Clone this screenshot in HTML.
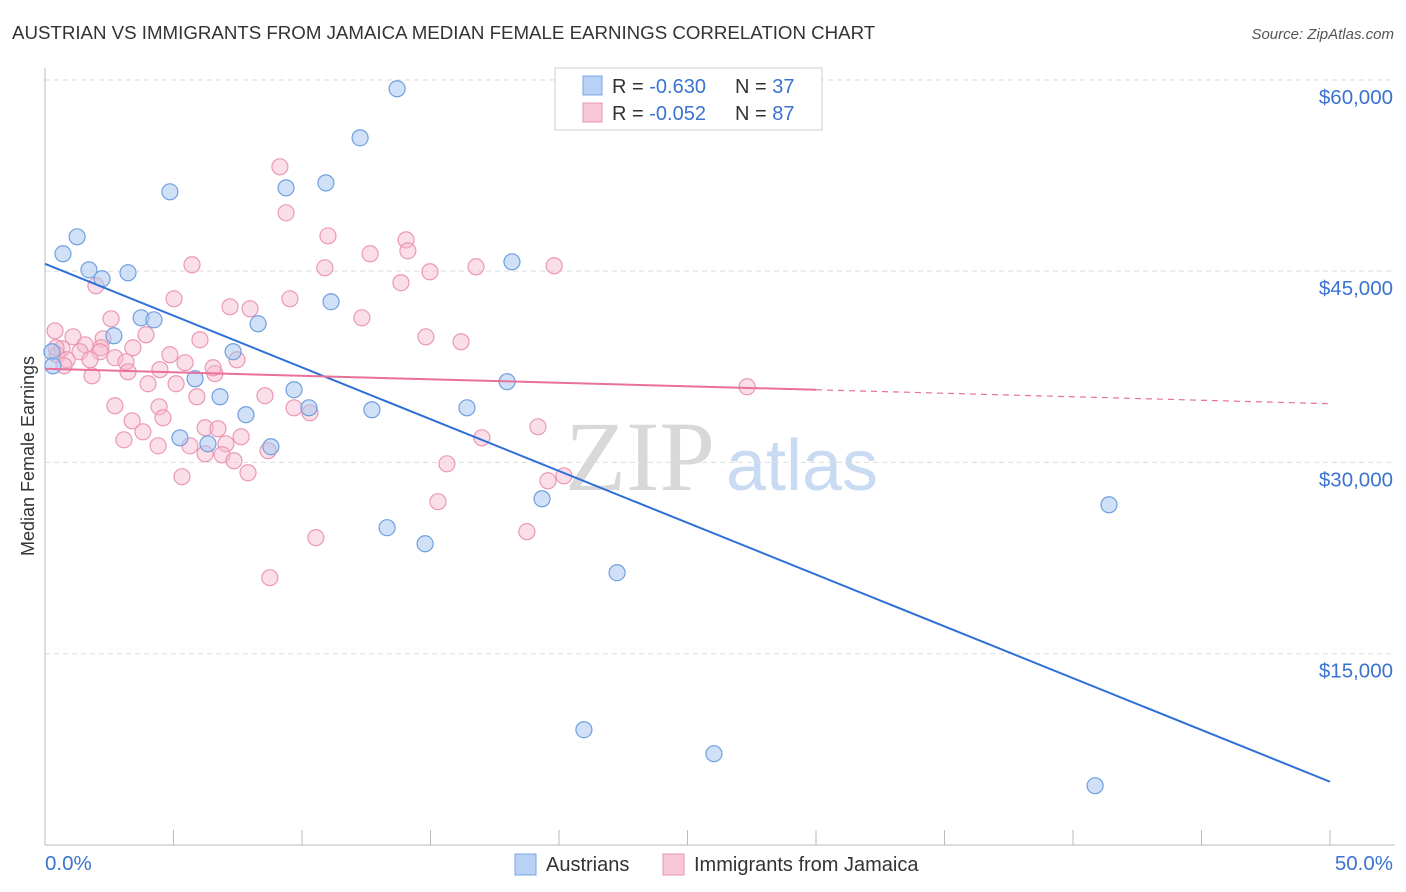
<!DOCTYPE html>
<html><head><meta charset="utf-8"><style>
body{margin:0;background:#fff;font-family:"Liberation Sans",sans-serif;}
svg{display:block}
</style></head><body>
<svg id="chart" width="1406" height="892" viewBox="0 0 1406 892">
<text x="12" y="39" font-size="18.7" fill="#333">AUSTRIAN VS IMMIGRANTS FROM JAMAICA MEDIAN FEMALE EARNINGS CORRELATION CHART</text>
<text x="1394" y="39" font-size="15" fill="#555" font-style="italic" text-anchor="end">Source: ZipAtlas.com</text>
<text x="34" y="456" font-size="18" fill="#333" text-anchor="middle" transform="rotate(-90 34 456)">Median Female Earnings</text>
<text x="640" y="490" font-size="100" fill="#d8d8d8" font-family="Liberation Serif,serif" text-anchor="middle">ZIP</text>
<text x="802" y="490" font-size="72" fill="#c9dbf2" text-anchor="middle">atlas</text>
<g id="grid"></g><g id="axes"></g><g id="pink"></g><g id="blue"></g><g id="lines"></g>
<g>
<rect x="555" y="68" width="267" height="62" fill="#fff" stroke="#ccc"/>
<rect x="583" y="76" width="19" height="19" fill="#b8d2f5" stroke="#7aa6e3"/>
<text x="612" y="93" font-size="20" fill="#333">R = <tspan fill="#3b73d1">-0.630</tspan></text>
<text x="735" y="93" font-size="20" fill="#333">N = <tspan fill="#3b73d1">37</tspan></text>
<rect x="583" y="103" width="19" height="19" fill="#f9c8d7" stroke="#ea93b0"/>
<text x="612" y="120" font-size="20" fill="#333">R = <tspan fill="#3b73d1">-0.052</tspan></text>
<text x="735" y="120" font-size="20" fill="#333">N = <tspan fill="#3b73d1">87</tspan></text>
</g>
<g>
<rect x="515" y="854" width="21" height="21" fill="#b8d2f5" stroke="#7aa6e3"/>
<text x="546" y="871" font-size="20" fill="#333">Austrians</text>
<rect x="663" y="854" width="21" height="21" fill="#f9c8d7" stroke="#ea93b0"/>
<text x="694" y="871" font-size="20" fill="#333">Immigrants from Jamaica</text>
</g>
</svg>
<script>
const yTicks=[15000,30000,45000,60000];
const yTickLabels=["$15,000","$30,000","$45,000","$60,000"];
const xTickLabels=["0.0%","50.0%"];
const blueX=[13.70,12.26,4.86,9.38,10.93,1.25,0.70,1.71,2.22,3.23,18.17,11.13,3.74,4.24,8.29,2.68,7.32,0.27,0.31,5.84,9.69,17.98,6.81,10.27,12.72,16.42,7.82,5.25,6.34,8.79,19.34,13.31,14.79,22.26,41.40,20.97,26.03,40.86];
const blueY=[59300,55450,51220,51530,51920,47690,46360,45100,44400,44870,45730,42600,41340,41180,40870,39930,38680,38680,37580,36560,35700,36330,35150,34280,34130,34280,33740,31930,31460,31230,27150,24880,23620,21350,26680,9040,7160,4650];
const pinkX=[9.14,9.38,11.01,14.05,14.12,12.65,5.72,10.89,16.77,19.81,14.98,13.85,1.98,5.02,9.53,7.20,7.98,12.33,2.57,0.39,1.09,2.26,14.82,16.19,3.93,1.56,0.66,2.18,3.42,6.03,0.47,1.36,2.72,0.86,3.15,7.47,4.47,5.45,6.61,3.23,0.74,1.83,4.01,5.10,5.91,8.56,4.44,2.72,9.69,10.31,3.39,4.59,3.81,3.07,7.63,6.23,6.73,4.40,5.64,7.04,6.23,6.89,7.35,8.68,7.90,5.33,15.64,17.00,19.18,20.19,19.57,15.29,18.75,10.54,8.75,27.32,2.14,0.43,4.86,6.54,1.75];
const pinkY=[53180,49570,47770,47450,46590,46360,45500,45260,45340,45420,44950,44090,43850,42830,42830,42200,42050,41340,41260,40320,39850,39690,39850,39460,40010,39220,38910,38990,38990,39620,38440,38680,38210,38050,37890,38050,37270,37820,36960,37110,37580,36790,36170,36170,35150,35230,34360,34440,34280,33890,33260,33500,32400,31770,32010,32720,32640,31300,31300,31460,30680,30600,30130,30920,29190,28880,29890,31930,32790,28950,28560,26920,24570,24100,20960,35930,38680,38990,38440,37420,38050];
const blueLine=[45570,4960];
const pinkLine=[37340,34600];
const pinkSolidEnd=30;
const X=p=>45+p*25.7;
const Y=v=>845-v*0.012753;
const NS="http://www.w3.org/2000/svg";
function mk(parent,tag,attrs){const e=document.createElementNS(NS,tag);for(const k in attrs)e.setAttribute(k,attrs[k]);document.getElementById(parent).appendChild(e);return e;}
yTicks.forEach((v,i)=>{
  const l=mk('grid','line',{x1:45,x2:1395,y1:Y(v),y2:Y(v),stroke:'#ddd','stroke-dasharray':'5,4'});
  
  
  const t=mk('axes','text',{x:1393,y:Y(v)+24,'font-size':20.5,fill:'#3b73d1','text-anchor':'end'});
  t.textContent=yTickLabels[i];
  
  
});
const topLine=mk('grid','line',{x1:45,x2:1395,y1:80,y2:80,stroke:'#ddd','stroke-dasharray':'5,4'});


const ya=mk('axes','line',{x1:45,x2:45,y1:68,y2:845,stroke:'#bbb'});


const xa=mk('axes','line',{x1:45,x2:1395,y1:845,y2:845,stroke:'#bbb'});


for(let i=0;i<=10;i++){
  const tk=mk('axes','line',{x1:X(i*5),x2:X(i*5),y1:830,y2:845,stroke:'#bbb'});
  
  
}
[[0,'start',45],[50,'end',1393]].forEach((d,i)=>{
  const t=mk('axes','text',{x:d[2],y:870,'font-size':20.5,fill:'#3b73d1','text-anchor':d[1]});
  t.textContent=xTickLabels[i];
  
  
});
pinkX.forEach((x,i)=>{
  const c=mk('pink','circle',{cx:X(x),cy:Y(pinkY[i]),r:8,fill:'rgba(247,184,204,0.45)',stroke:'#eb98b3','stroke-width':1.2});
  
  
});
blueX.forEach((x,i)=>{
  const c=mk('blue','circle',{cx:X(x),cy:Y(blueY[i]),r:8,fill:'rgba(169,200,240,0.55)',stroke:'#6f9fe0','stroke-width':1.2});
  
  
});
const bl=mk('lines','line',{x1:X(0),y1:Y(blueLine[0]),x2:X(50),y2:Y(blueLine[1]),stroke:'#2e6fd8','stroke-width':2});


const pm=pinkLine[0]+(pinkLine[1]-pinkLine[0])*pinkSolidEnd/50;
const pl=mk('lines','line',{x1:X(0),y1:Y(pinkLine[0]),x2:X(pinkSolidEnd),y2:Y(pm),stroke:'#e8709a','stroke-width':2});


const pd=mk('lines','line',{x1:X(pinkSolidEnd),y1:Y(pm),x2:X(50),y2:Y(pinkLine[1]),stroke:'#e8709a','stroke-width':1.2,'stroke-dasharray':'6,5'});


</script>
</body></html>
